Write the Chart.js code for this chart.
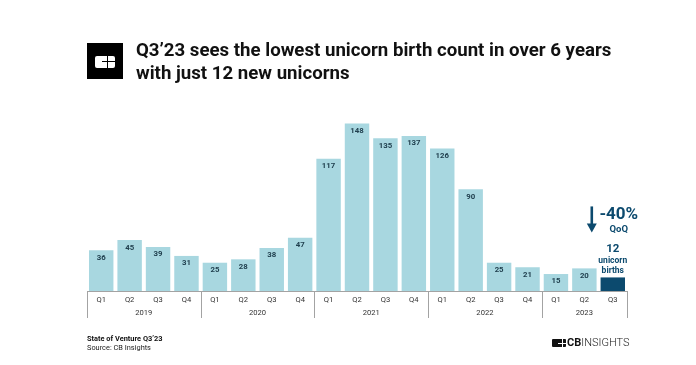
<!DOCTYPE html>
<html><head><meta charset="utf-8">
<script src="https://cdn.jsdelivr.net/npm/chart.js@4"></script>
<style>
html,body{margin:0;padding:0;background:#fff;width:696px;height:365px;overflow:hidden;font-family:Roboto,sans-serif}
#wrap{position:relative;width:696px;height:365px}
canvas{position:absolute;left:0;top:0}
.t{position:absolute;white-space:nowrap}
#title{left:136px;top:39px;font:700 18.65px/23px Roboto,sans-serif;color:#111}
#logo{left:87px;top:43px;width:36px;height:36px;background:#000}
#logo i{position:absolute;background:#fff;display:block}
#foot{left:87px;top:334px;font:7.4px/9px Roboto,sans-serif;color:#222}
#foot b{font-weight:700;color:#111}
#brand{left:567px;top:334px;font:300 11px/18px Roboto,sans-serif;color:#222}
#brand b{font-weight:700;color:#111}
#mark{left:552px;top:339px;width:14px;height:8px;background:#111;border-radius:1px}
#mark i{position:absolute;background:#fff;display:block}
</style></head><body>
<div id="wrap">
<canvas id="c" width="696" height="365"></canvas>
<div class="t" id="logo"><i style="left:8px;top:13px;width:20px;height:12px;border-radius:2px"></i><i style="left:15px;top:18px;width:13px;height:1px;background:#000"></i><i style="left:20px;top:13px;width:1px;height:12px;background:#000"></i></div>
<div class="t" id="title">Q3’23 sees the lowest unicorn birth count in over 6 years<br>with just 12 new unicorns</div>
<div class="t" id="foot"><b>State of Venture Q3’23</b><br>Source: CB Insights</div>
<div class="t" id="mark"><i style="left:6px;top:4px;width:8px;height:1px"></i><i style="left:10px;top:0;width:1px;height:8px"></i></div>
<div class="t" id="brand"><b>CB</b>INSIGHTS</div>
</div>
<script>
const quarters = ["Q1","Q2","Q3","Q4","Q1","Q2","Q3","Q4","Q1","Q2","Q3","Q4","Q1","Q2","Q3","Q4","Q1","Q2","Q3"];
const births = [36,45,39,31,25,28,38,47,117,148,135,137,126,90,25,21,15,20,12];
const years = ["2019","2020","2021","2022","2023"];
const yearSizes = [4,4,4,4,3];
const callout = ["12","unicorn","births"];
const change = "-40%";
const changeLabel = "QoQ";
const LIGHT="#a8d7e0", DARK="#0c4a6e", INK="#21404f", RULE="#a3a3a3";

const extras = {
  id:"extras",
  afterDraw(chart){
    const {ctx,scales:{x,y}} = chart;
    const step = x.getPixelForValue(1)-x.getPixelForValue(0);
    const base = y.getPixelForValue(0);
    ctx.save();
    ctx.textAlign="center"; ctx.textBaseline="middle";
    ctx.font="700 7.8px Roboto"; ctx.fillStyle=INK;
    births.forEach((v,i)=>{
      if(i===births.length-1) return;
      ctx.fillText(String(v),x.getPixelForValue(i),y.getPixelForValue(v)+7.5);
    });
    ctx.strokeStyle=RULE; ctx.lineWidth=1;
    let start=0;
    const bx=p=>Math.round(p)+.5;
    ctx.beginPath();
    ctx.moveTo(x.getPixelForValue(0)-step/2,base+.5);
    ctx.lineTo(x.getPixelForValue(births.length-1)+step/2,base+.5);
    const l0=x.getPixelForValue(0)-step/2;
    ctx.moveTo(bx(l0),base); ctx.lineTo(bx(l0),base+27);
    ctx.font="7.6px Roboto"; ctx.fillStyle="#333";
    years.forEach((yr,k)=>{
      const end=start+yearSizes[k];
      const r=x.getPixelForValue(end-1)+step/2;
      const l=x.getPixelForValue(start)-step/2;
      ctx.moveTo(bx(r),base); ctx.lineTo(bx(r),base+27);
      ctx.fillText(yr,(l+r)/2,base+22);
      start=end;
    });
    ctx.stroke();
    const n=births.length-1, cx=x.getPixelForValue(n);
    const top=y.getPixelForValue(births[n]);
    ctx.fillStyle=DARK;
    ctx.font="700 11.5px Roboto"; ctx.fillText(callout[0],cx,top-28);
    ctx.font="700 8.5px Roboto"; ctx.fillText(callout[1],cx,top-17); ctx.fillText(callout[2],cx,top-7);
    ctx.font="700 17px Roboto"; ctx.fillText(change,cx+6,top-63);
    ctx.font="700 9.5px Roboto"; ctx.fillText(changeLabel,cx+6,top-48);
    const ax=cx-21;
    ctx.strokeStyle=DARK; ctx.lineWidth=2.6;
    ctx.beginPath(); ctx.moveTo(ax,top-71); ctx.lineTo(ax,top-52); ctx.stroke();
    ctx.beginPath(); ctx.moveTo(ax-5,top-54); ctx.lineTo(ax+5,top-54); ctx.lineTo(ax,top-45); ctx.closePath(); ctx.fill();
    ctx.restore();
  }
};
new Chart(document.getElementById("c"),{
  type:"bar",
  data:{labels:quarters,datasets:[{data:births,backgroundColor:births.map((v,i)=>i===births.length-1?DARK:LIGHT),barPercentage:.86,categoryPercentage:1}]},
  options:{
    responsive:false,animation:false,
    layout:{padding:{left:87,right:69,top:110,bottom:0}},
    plugins:{legend:{display:false},tooltip:{enabled:false}},
    scales:{
      x:{grid:{display:false,drawTicks:false},border:{display:false},
        ticks:{color:"#333",font:{family:"Roboto",size:7.6},padding:5,maxRotation:0,autoSkip:false},
        afterFit(s){s.height=74;}},
      y:{display:false,min:0,max:160}
    }
  },
  plugins:[extras]
});
</script></body></html>
